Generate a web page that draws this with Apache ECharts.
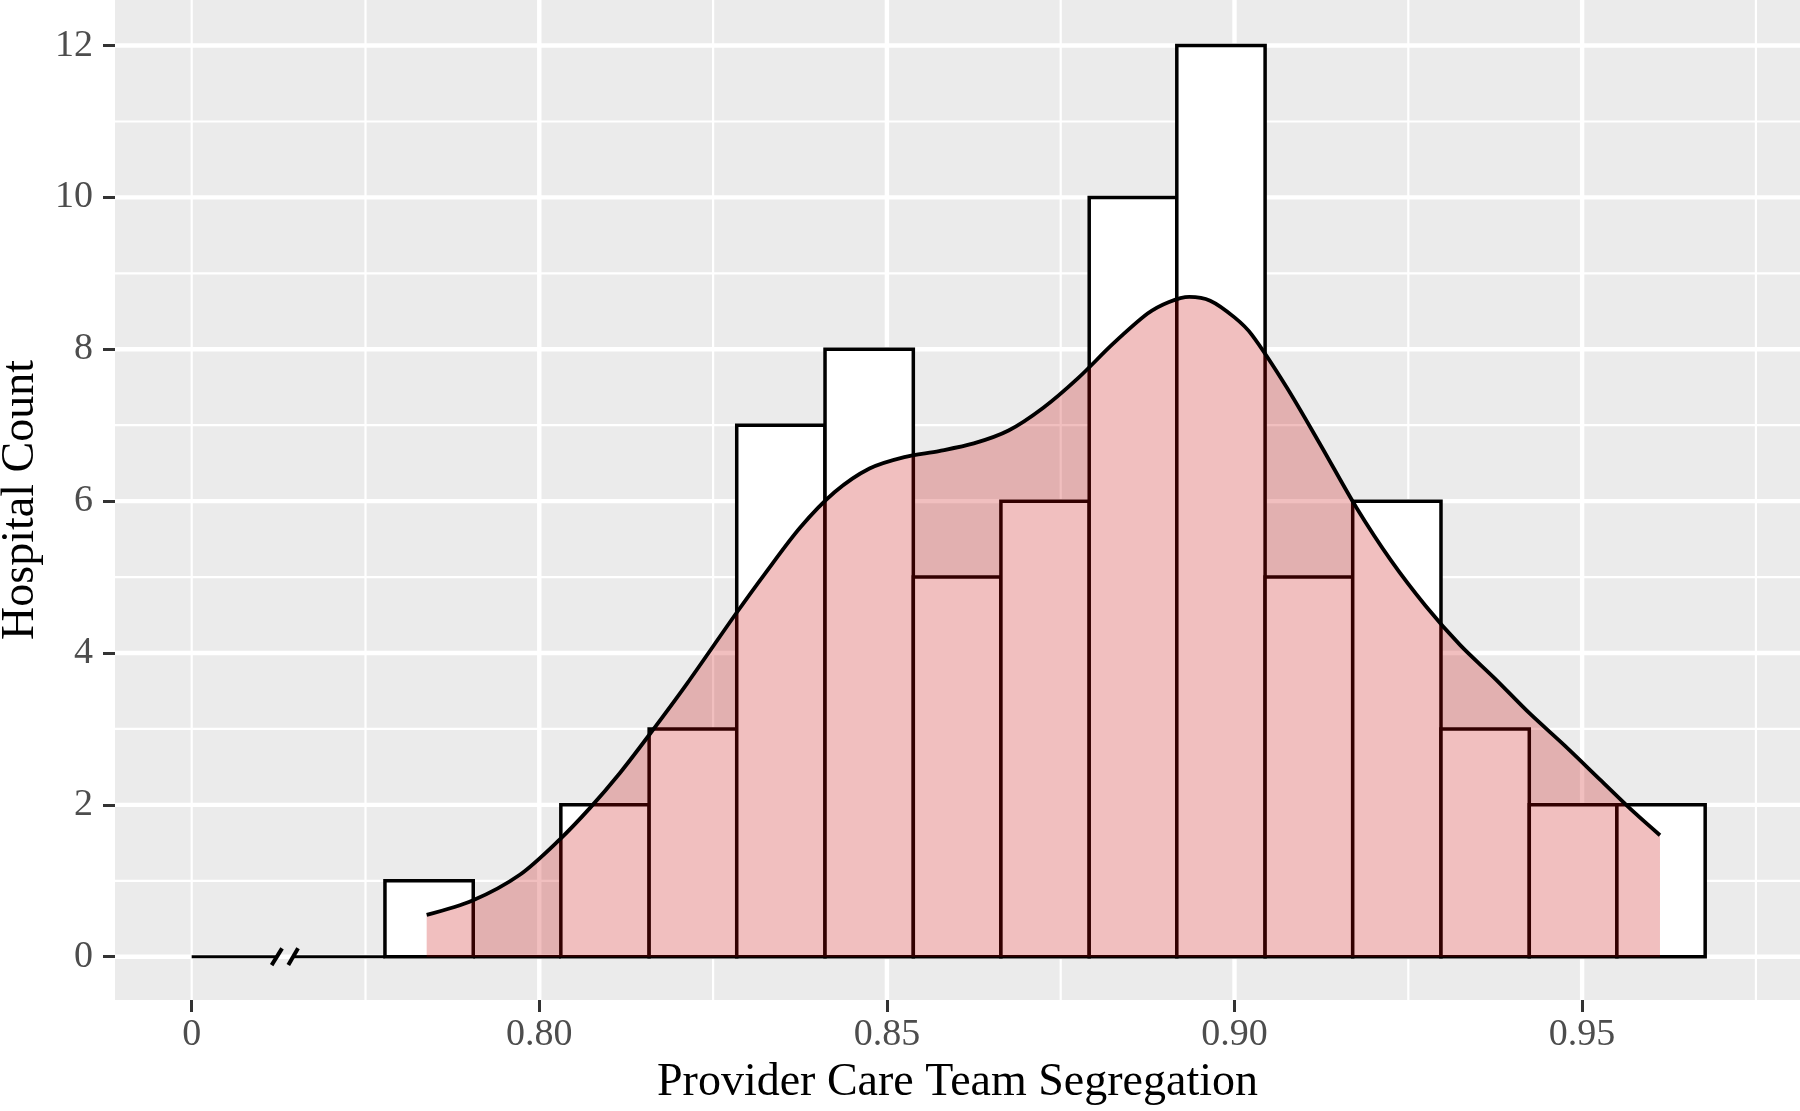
<!DOCTYPE html>
<html>
<head>
<meta charset="utf-8">
<script src="https://cdn.jsdelivr.net/npm/echarts@6/dist/echarts.min.js"></script>
<style>
html,body{margin:0;padding:0;background:#fff;}
#chart{width:1800px;height:1111px;}
</style>
</head>
<body>
<div id="chart"></div>
<script>
// ---- data ----
const binEdges = [0.7778, 0.7905, 0.8031, 0.8158, 0.8284, 0.8411, 0.8538, 0.8664, 0.8791, 0.8917, 0.9044, 0.9170, 0.9297, 0.9424, 0.9550, 0.9677];
const binCounts = [1, 0, 2, 3, 7, 8, 5, 6, 10, 12, 5, 6, 3, 2, 2];

const densityX = [0.7838, 0.7904, 0.7972, 0.8030, 0.8073, 0.8116, 0.8158, 0.8212, 0.8283, 0.8325, 0.8375, 0.8425, 0.8475, 0.8525, 0.8575, 0.8625, 0.8675, 0.8725, 0.8775, 0.8825, 0.8875, 0.8905, 0.8935, 0.8965, 0.9000, 0.9025, 0.9075, 0.9125, 0.9175, 0.9225, 0.9275, 0.9325, 0.9375, 0.9425, 0.9475, 0.9525, 0.9575, 0.9612];
const densityY = [0.55, 0.74, 1.08, 1.55, 1.96, 2.42, 2.92, 3.59, 4.52, 5.05, 5.65, 6.12, 6.43, 6.58, 6.66, 6.76, 6.93, 7.23, 7.62, 8.07, 8.47, 8.62, 8.69, 8.64, 8.42, 8.19, 7.50, 6.72, 5.92, 5.22, 4.62, 4.10, 3.66, 3.20, 2.78, 2.34, 1.90, 1.60];

const xTickValues = [0.75, 0.80, 0.85, 0.90, 0.95];
const xTickLabels = ['0', '0.80', '0.85', '0.90', '0.95'];
const yTickValues = [0, 2, 4, 6, 8, 10, 12];
const yTickLabels = ['0', '2', '4', '6', '8', '10', '12'];

const xMajorGrid = [0.80, 0.85, 0.90, 0.95];
const xMinorGrid = [0.75, 0.775, 0.825, 0.875, 0.925, 0.975];
const yMajorGrid = [0, 2, 4, 6, 8, 10, 12];
const yMinorGrid = [1, 3, 5, 7, 9, 11];

// axis break on the x baseline
const breakLeft = [[0.75, 0], [0.7622, 0]];
const breakRight = [[0.7646, 0], [0.7778, 0]];
const breakSlash1 = [[0.7615, -0.11], [0.7630, 0.11]];
const breakSlash2 = [[0.7639, -0.11], [0.7653, 0.11]];

const xMin = 0.73897, xMax = 0.98134;
const yMin = -0.57, yMax = 12.6;

// ---- chart ----
const chart = echarts.init(document.getElementById('chart'), null, {renderer: 'canvas'});
const serif = 'Liberation Serif, Times New Roman, serif';

function labelFor(values, labels) {
  return function (v) {
    for (let i = 0; i < values.length; i++) {
      if (Math.abs(values[i] - v) < 1e-6) return labels[i];
    }
    return '';
  };
}

function vGrid(width) {
  return function (params, api) {
    const cs = params.coordSys;
    const x = api.coord([api.value(0), 0])[0];
    return {type: 'line', shape: {x1: x, y1: cs.y, x2: x, y2: cs.y + cs.height},
            style: {stroke: '#ffffff', lineWidth: width}};
  };
}
function hGrid(width) {
  return function (params, api) {
    const cs = params.coordSys;
    const y = api.coord([xMin, api.value(1)])[1];
    return {type: 'line', shape: {x1: cs.x, y1: y, x2: cs.x + cs.width, y2: y},
            style: {stroke: '#ffffff', lineWidth: width}};
  };
}

const barData = binCounts.map((c, i) => [binEdges[i], binEdges[i + 1], c]);
const densityData = densityX.map((x, i) => [x, densityY[i]]);

const blackLine = {type: 'line', symbol: 'none', silent: true, z: 4,
  lineStyle: {color: '#000', width: 3}, animation: false};

const option = {
  animation: false,
  grid: {left: 115, right: 0, top: 0, bottom: 111, show: true, outerBoundsMode: 'none',
         backgroundColor: '#EBEBEB', borderWidth: 0, containLabel: false},
  xAxis: {
    type: 'value', min: xMin, max: xMax,
    splitLine: {show: false},
    axisLine: {show: false, onZero: false},
    axisTick: {show: true, customValues: xTickValues, length: 12, lineStyle: {color: '#333333', width: 3}},
    axisLabel: {show: true, customValues: xTickValues, formatter: labelFor(xTickValues, xTickLabels),
                fontFamily: serif, fontSize: 38, color: '#4D4D4D', margin: 16},
    name: 'Provider Care Team Segregation', nameLocation: 'middle', nameGap: 60,
    nameTextStyle: {fontFamily: serif, fontSize: 46, color: '#000'}
  },
  yAxis: {
    type: 'value', min: yMin, max: yMax,
    splitLine: {show: false},
    axisLine: {show: false, onZero: false},
    axisTick: {show: true, customValues: yTickValues, length: 12, lineStyle: {color: '#333333', width: 3}},
    axisLabel: {show: true, customValues: yTickValues, formatter: labelFor(yTickValues, yTickLabels),
                fontFamily: serif, fontSize: 38, color: '#4D4D4D', margin: 22},
    name: 'Hospital Count', nameLocation: 'middle', nameGap: 71,
    nameTextStyle: {fontFamily: serif, fontSize: 46, color: '#000'}
  },
  series: [
    {type: 'custom', silent: true, z: 1, renderItem: vGrid(2.2), data: xMinorGrid.map(v => [v, 0])},
    {type: 'custom', silent: true, z: 1, renderItem: hGrid(2.2), data: yMinorGrid.map(v => [xMin, v])},
    {type: 'custom', silent: true, z: 1, renderItem: vGrid(4.4), data: xMajorGrid.map(v => [v, 0])},
    {type: 'custom', silent: true, z: 1, renderItem: hGrid(4.4), data: yMajorGrid.map(v => [xMin, v])},
    {
      type: 'custom', silent: true, z: 2,
      encode: {x: [0, 1], y: 2},
      renderItem: function (params, api) {
        const p0 = api.coord([api.value(0), api.value(2)]);
        const p1 = api.coord([api.value(1), 0]);
        return {type: 'rect', shape: {x: p0[0], y: p0[1], width: p1[0] - p0[0], height: p1[1] - p0[1]},
                style: {fill: '#ffffff', stroke: '#000000', lineWidth: 3.5}};
      },
      data: barData
    },
    {
      type: 'line', data: densityData, symbol: 'none', smooth: 0.3, silent: true, z: 3,
      lineStyle: {color: '#000000', width: 3.8},
      areaStyle: {color: 'rgba(200,0,0,0.25)', opacity: 1, origin: 'auto'}
    },
    Object.assign({}, blackLine, {data: breakLeft}),
    Object.assign({}, blackLine, {data: breakRight}),
    Object.assign({}, blackLine, {data: breakSlash1, lineStyle: {color: '#000', width: 4}}),
    Object.assign({}, blackLine, {data: breakSlash2, lineStyle: {color: '#000', width: 4}})
  ]
};
chart.setOption(option);
</script>
</body>
</html>
